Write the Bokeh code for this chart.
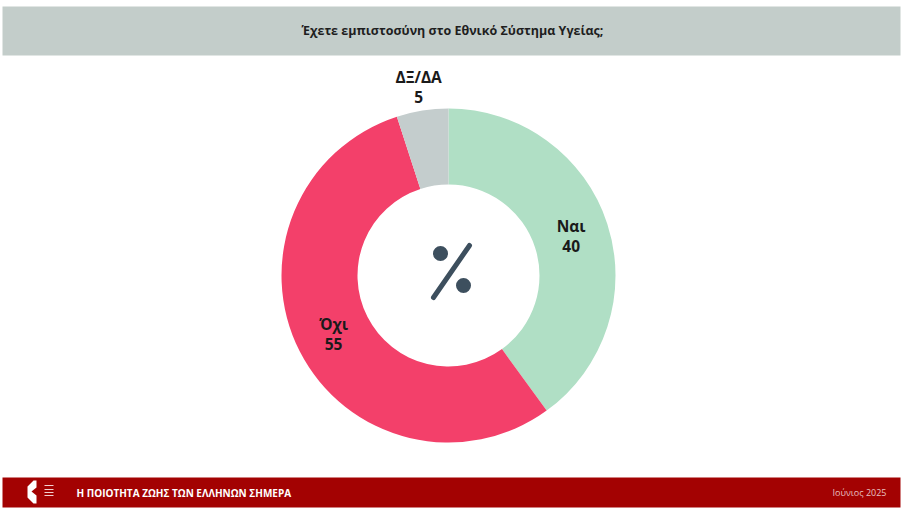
import math
from bokeh.plotting import figure
from bokeh.models import Range1d
from bokeh.core.properties import value
from bokeh.embed import file_html
from bokeh.resources import INLINE

# ---- data ----
categories = ["Ναι", "Όχι", "ΔΞ/ΔΑ"]
values = [40, 55, 5]
colors = ["#b0dfc5", "#f3406a", "#c4cdcd"]
title_text = "Έχετε εμπιστοσύνη στο Εθνικό Σύστημα Υγείας;"
footer_text = "Η ΠΟΙΟΤΗΤΑ ΖΩΗΣ ΤΩΝ ΕΛΛΗΝΩΝ ΣΗΜΕΡΑ"
date_text = "Ιούνιος 2025"

W, H = 902, 510
p = figure(width=W, height=H, output_backend="svg", toolbar_location=None,
           x_range=Range1d(0, W), y_range=Range1d(0, H), min_border=0)
p.axis.visible = False
p.grid.visible = False
p.outline_line_color = None
p.background_fill_color = "white"
p.border_fill_color = "white"

def X(x):
    return x

def Y(y):
    return H - y

FONT = value("Open Sans")

# header band
p.quad(left=[X(2)], right=[X(900)], bottom=[Y(55)], top=[Y(6)], fill_color="#c3cdca", line_color=None)
p.text(x=[X(452)], y=[Y(30)], text=[title_text], text_font=FONT, text_font_size="12.5px",
       text_font_style="bold", text_color="#1e1e1e", text_align="center", text_baseline="middle")

# footer band
p.quad(left=[X(2)], right=[X(900)], bottom=[Y(507)], top=[Y(477)], fill_color="#a30202", line_color=None)
p.text(x=[X(76)], y=[Y(492)], text=[footer_text], text_font=FONT, text_font_size="10px",
       text_font_style="bold", text_color="white", text_align="left", text_baseline="middle")
p.text(x=[X(886)], y=[Y(492)], text=[date_text], text_font=FONT, text_font_size="9px",
       text_color="#e8c0c0", text_align="right", text_baseline="middle")
# logo (decorative)
p.patch(x=[X(33), X(36), X(36), X(31), X(36), X(36), X(33), X(27), X(27)],
        y=[Y(480), Y(480), Y(487), Y(491), Y(495), Y(503), Y(503), Y(497), Y(486)],
        fill_color="white", line_color=None)
p.segment(x0=[X(44)] * 4, y0=[Y(485), Y(489), Y(492), Y(495)],
          x1=[X(53)] * 4, y1=[Y(485), Y(489), Y(492), Y(495)], line_color="#f3d0d0", line_width=1.2)

# donut
cx, cy = X(448), Y(275)
r_out, r_in = 167, 91
total = sum(values)
start = math.pi / 2
starts, ends, mids = [], [], []
for v in values:
    a = 2 * math.pi * v / total
    starts.append(start)
    ends.append(start - a)
    mids.append(start - a / 2)
    start -= a
p.annular_wedge(x=[cx] * len(values), y=[cy] * len(values), inner_radius=r_in, outer_radius=r_out,
                start_angle=ends, end_angle=starts, direction="anticlock",
                fill_color=colors, line_color=None)

# labels
for cat, v, m in zip(categories, values, mids):
    rr = (r_out + r_in) / 2 if v >= 10 else r_out + 24
    lx = cx + rr * math.cos(m)
    ly = cy + rr * math.sin(m)
    p.text(x=[lx], y=[ly + 10], text=[cat], text_font=FONT, text_font_size="15.5px",
           text_font_style="bold", text_color="#1a1a1a", text_align="center", text_baseline="middle")
    p.text(x=[lx], y=[ly - 10], text=[str(v)], text_font=FONT, text_font_size="15.5px",
           text_font_style="bold", text_color="#1a1a1a", text_align="center", text_baseline="middle")

# percent icon in centre
pc = "#3d4f5e"
p.segment(x0=[cx + 21], y0=[cy + 30], x1=[cx - 15], y1=[cy - 22], line_color=pc, line_width=5,
          line_cap="round")
p.scatter(x=[cx - 8, cx + 15], y=[cy + 22, cy - 10], size=15, fill_color=pc, line_color=None)

open("out.html", "w").write(file_html(p, INLINE))
